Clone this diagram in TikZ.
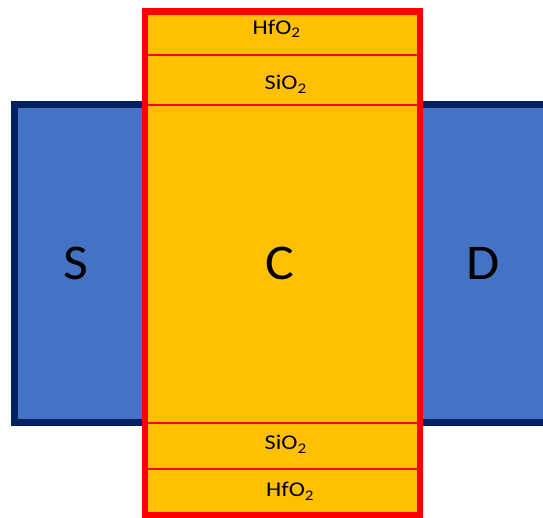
\documentclass[tikz,border=0pt]{standalone}
\usepackage{fontspec}
\setmainfont{Carlito}
\definecolor{srcblue}{HTML}{4472C4}
\definecolor{navy}{HTML}{002060}
\definecolor{chan}{HTML}{FFC000}
\definecolor{redline}{HTML}{FF0000}
\newcommand{\wideA}[1]{\scalebox{1.16}[1]{#1}}
\newcommand{\wideB}[1]{\scalebox{1.08}[1]{#1}}
\begin{document}
\begin{tikzpicture}[x=1pt,y=1pt,
  big/.style={inner sep=0pt,anchor=base,font=\fontsize{50}{60}\selectfont},
  small/.style={inner sep=0pt,anchor=base west,font=\fontsize{21}{25}\selectfont},
  divider/.style={draw=redline,line width=2pt}]
\useasboundingbox (0,0) rectangle (543,518);
\clip (0,0) rectangle (543,518);
% source/drain bar
\draw[fill=srcblue,draw=navy,line width=7pt] (14.5,95.5) rectangle (600,413.5);
% channel stack
\fill[chan] (145,2.5) rectangle (420,506.5);
\coordinate (d1l) at (145,463);   \coordinate (d1r) at (420,463);
\coordinate (d2l) at (145,413.3); \coordinate (d2r) at (420,413.3);
\coordinate (d3l) at (145,95);    \coordinate (d3r) at (420,95);
\coordinate (d4l) at (145,49.3);  \coordinate (d4r) at (420,49.3);
\draw[divider] (d1l) -- (d1r);
\draw[divider] (d2l) -- (d2r);
\draw[divider] (d3l) -- (d3r);
\draw[divider] (d4l) -- (d4r);
\draw[redline,line width=6.5pt] (145,2.5) rectangle (420,506.5);
% labels
\node[big] (S) at (75.5,238) {\wideB{S}};
\node[big] (C) at (279.5,238) {\wideB{C}};
\node[big] (D) at (483,238) {\wideB{D}};
\node[small] (hf1) at (252.5,483.7) {\wideA{HfO\textsubscript{2}}};
\node[small] (si1) at (264.5,428) {\wideA{SiO\textsubscript{2}}};
\node[small] (si2) at (264.5,68) {\wideA{SiO\textsubscript{2}}};
\node[small] (hf2) at (266,21) {\wideA{HfO\textsubscript{2}}};
\end{tikzpicture}
\end{document}
